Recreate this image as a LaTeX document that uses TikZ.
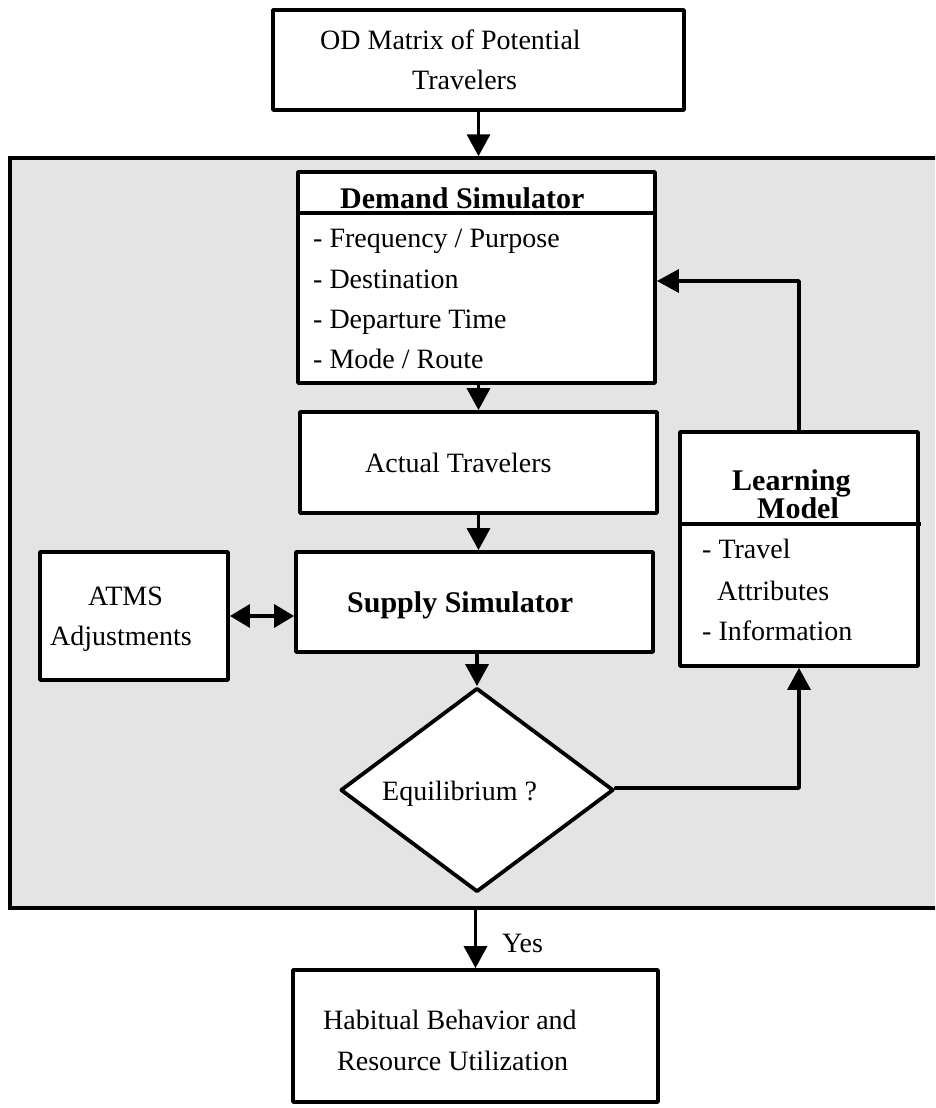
\documentclass[tikz,border=0pt]{standalone}
\usepackage{fontspec}
\setmainfont{Liberation Serif}
\usetikzlibrary{arrows.meta,shapes.geometric}
\definecolor{panel}{HTML}{E4E4E4}
\begin{document}
\begin{tikzpicture}[x=1pt,y=-1pt,
  box/.style={draw,line width=3.8pt,fill=white,inner sep=0,line join=round},
  txt/.style={anchor=base west,inner sep=0,font=\fontsize{28}{34}\selectfont},
  btxt/.style={anchor=base west,inner sep=0,font=\fontsize{30}{36}\selectfont\bfseries},
  conn/.style={line width=3.5pt,line join=round},
  arr/.style={conn,-{Triangle[length=22pt,width=23pt]}},
  arrboth/.style={conn,{Triangle[length=20pt,width=23pt]}-{Triangle[length=20pt,width=23pt]}},
]
\useasboundingbox (0,0) rectangle (935,1108);
\clip (0,0) rectangle (935,1108);
\fill[white] (0,0) rectangle (935,1108);

% outer panel
\node[draw,line width=3.5pt,fill=panel,inner sep=0,minimum width=950pt,minimum height=750pt] (frame) at (485,533) {};

% boxes
\node[box,minimum width=411pt,minimum height=100pt] (top) at (478.5,60) {};
\node[box,minimum width=357pt,minimum height=211pt] (dem) at (476.5,277.5) {};
\node[box,minimum width=357pt,minimum height=101pt] (act) at (478.5,462.5) {};
\node[box,minimum width=357pt,minimum height=100pt] (sup) at (474.5,602) {};
\node[box,minimum width=188pt,minimum height=128pt] (atms) at (134,616) {};
\node[box,minimum width=238pt,minimum height=234pt] (learn) at (799,549) {};
\node[box,shape=diamond,minimum width=273pt,minimum height=204pt] (dia) at (477,790) {};
\node[box,minimum width=365pt,minimum height=132pt] (hab) at (475.5,1036) {};

% dividers
\coordinate (demdivL) at (296,213);
\coordinate (demdivR) at (657,213);
\draw[line width=3.8pt] (demdivL) -- (demdivR);
\coordinate (lrndivL) at (680,524);
\coordinate (lrndivR) at (921,524);
\draw[line width=3.8pt] (lrndivL) -- (lrndivR);

% texts
\node[txt] (t1) at (320,49) {OD Matrix of Potential};
\node[txt] (t2) at (412,89) {Travelers};
\node[btxt] (d0) at (340,208) {Demand Simulator};
\node[txt] (d1) at (313,247) {- Frequency / Purpose};
\node[txt] (d2) at (313,288) {- Destination};
\node[txt] (d3) at (313,328) {- Departure Time};
\node[txt] (d4) at (313,368) {- Mode / Route};
\node[txt] (a1) at (365,472) {Actual Travelers};
\node[btxt] (s1) at (347,612) {Supply Simulator};
\node[txt] (m1) at (88,605) {ATMS};
\node[txt] (m2) at (50,645) {Adjustments};
\node[btxt] (l1) at (732,490) {Learning};
\node[btxt] (l2) at (757,518) {Model};
\node[txt] (l3) at (702,558) {- Travel};
\node[txt] (l4) at (717,600) {Attributes};
\node[txt] (l5) at (702,640) {- Information};
\node[txt] (e1) at (382,800) {Equilibrium ?};
\node[txt] (y1) at (502,952) {Yes};
\node[txt] (h1) at (323,1029) {Habitual Behavior and};
\node[txt] (h2) at (337,1070) {Resource Utilization};

% connectors
\draw[arr] (top.south) -- (top.south |- frame.north);
\draw[arr] (act.north |- dem.south) -- (act.north);
\draw[arr] (act.south) -- (act.south |- sup.north);
\draw[arr] (dia.north |- sup.south) -- (dia.north);
\draw[arrboth] (atms.east) -- (atms.east -| sup.west);
\coordinate (eqturn) at (799,788);
\draw[arr] (dia.east) -- (dia.east |- eqturn) -- (eqturn) -- (learn.south);
\coordinate (fbk) at (799,281);
\draw[arr] (learn.north) -- (fbk) -- (fbk -| dem.east);
\draw[arr] (hab.north |- frame.south) -- (hab.north);
\end{tikzpicture}
\end{document}
